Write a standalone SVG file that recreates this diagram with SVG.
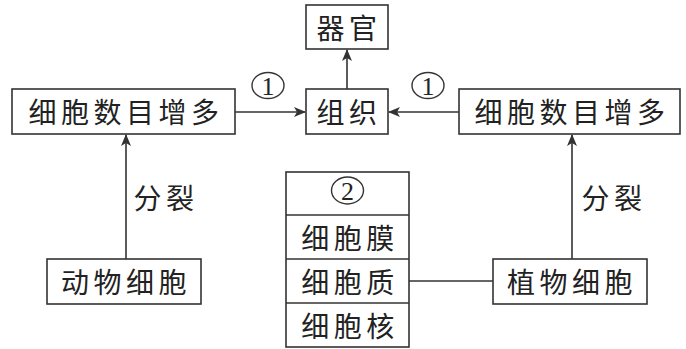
<svg xmlns="http://www.w3.org/2000/svg" width="686" height="349" viewBox="0 0 686 349">
<defs>
<style>
.box{fill:#fff;stroke:#333;stroke-width:1.6}
.t{font-family:"Noto Sans CJK SC","Noto Sans",sans-serif;font-size:28px;fill:#222;text-anchor:middle;dominant-baseline:central;letter-spacing:4.5px}
.n{font-family:"Liberation Serif","DejaVu Serif",serif;font-size:26px;fill:#222;text-anchor:middle;dominant-baseline:central}
.ring{fill:none;stroke:#333;stroke-width:1.4}
.c{stroke:#333;stroke-width:1.6;fill:none}
</style>
<marker id="ah" markerWidth="12" markerHeight="10" refX="11" refY="5" orient="auto" markerUnits="userSpaceOnUse">
<path d="M0,0 L12,5 L0,10 L3,5 Z" fill="#333"/>
</marker>
</defs>
<g id="connectors">
<line class="c" x1="235" y1="112" x2="305" y2="112" marker-end="url(#ah)"/>
<line class="c" x1="459" y1="112" x2="389" y2="112" marker-end="url(#ah)"/>
<line class="c" x1="347" y1="89" x2="347" y2="50" marker-end="url(#ah)"/>
<line class="c" x1="126" y1="259" x2="126" y2="135" marker-end="url(#ah)"/>
<line class="c" x1="572" y1="259" x2="572" y2="135" marker-end="url(#ah)"/>
<line class="c" x1="409" y1="281" x2="493" y2="281"/>
<ellipse class="ring" cx="268" cy="85.5" rx="16" ry="13"/>
<text class="n" x="268" y="86.5">1</text>
<ellipse class="ring" cx="428" cy="85.5" rx="16" ry="13"/>
<text class="n" x="428" y="86.5">1</text>
<text class="t" x="166" y="197">分裂</text>
<text class="t" x="614" y="197">分裂</text>
</g>
<g id="organ">
<rect class="box" x="306" y="5" width="82" height="44"/>
<text class="t" x="349" y="27">器官</text>
</g>
<g id="tissue">
<rect class="box" x="306" y="89" width="82" height="45"/>
<text class="t" x="349" y="111">组织</text>
</g>
<g id="left-increase">
<rect class="box" x="12" y="89" width="223" height="45"/>
<text class="t" x="126" y="111">细胞数目增多</text>
</g>
<g id="right-increase">
<rect class="box" x="459" y="89" width="221" height="45"/>
<text class="t" x="572" y="111">细胞数目增多</text>
</g>
<g id="animal-cell">
<rect class="box" x="47" y="259" width="154" height="45"/>
<text class="t" x="126" y="281">动物细胞</text>
</g>
<g id="plant-cell">
<rect class="box" x="493" y="259" width="154" height="45"/>
<text class="t" x="572" y="281">植物细胞</text>
</g>
<g id="cell-structure">
<rect class="box" x="286" y="172" width="123" height="175"/>
<line class="c" x1="286" y1="215" x2="409" y2="215"/>
<line class="c" x1="286" y1="259" x2="409" y2="259"/>
<line class="c" x1="286" y1="303" x2="409" y2="303"/>
<ellipse class="ring" cx="347.5" cy="190.5" rx="16" ry="13.5"/>
<text class="n" x="347.5" y="191.5">2</text>
<text class="t" x="350" y="237">细胞膜</text>
<text class="t" x="350" y="281">细胞质</text>
<text class="t" x="350" y="325">细胞核</text>
</g>
</svg>
